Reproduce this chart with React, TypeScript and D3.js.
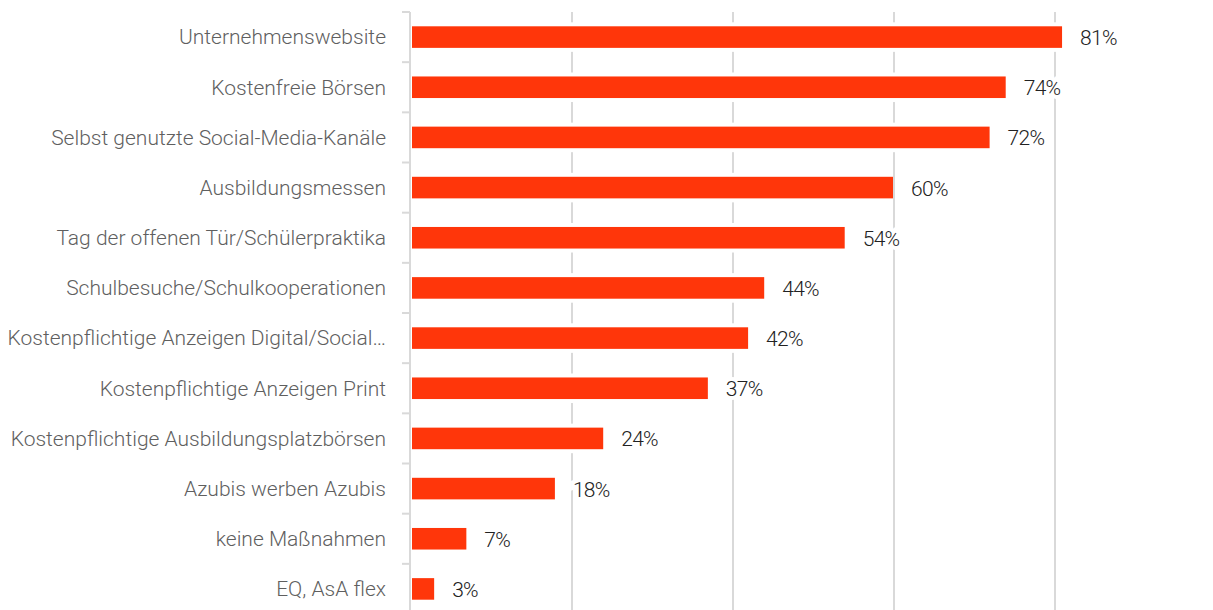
import * as d3 from "d3";
import { useEffect, useRef } from "react";

const categories = [
  "Unternehmenswebsite",
  "Kostenfreie Börsen",
  "Selbst genutzte Social-Media-Kanäle",
  "Ausbildungsmessen",
  "Tag der offenen Tür/Schülerpraktika",
  "Schulbesuche/Schulkooperationen",
  "Kostenpflichtige Anzeigen Digital/Social…",
  "Kostenpflichtige Anzeigen Print",
  "Kostenpflichtige Ausbildungsplatzbörsen",
  "Azubis werben Azubis",
  "keine Maßnahmen",
  "EQ, AsA flex",
];
const values = [81, 74, 72, 60, 54, 44, 42, 37, 24, 18, 7, 3];
const gridTicks = [20, 40, 60, 80, 100];

const W = 1213;
const H = 610;

const App = () => {
  const ref = useRef<SVGSVGElement | null>(null);

  useEffect(() => {
    if (!ref.current) return;
    const svg = d3.select(ref.current);
    svg.selectAll("*").remove();

    const x = d3.scaleLinear().domain([0, 100]).range([411, 1216]);
    const y = d3.scaleBand().domain(categories).range([12, 614]).padding(0);
    const barH = y.bandwidth() * 0.43;
    const font = "Roboto, 'Noto Sans', sans-serif";

    // gridlines
    svg
      .append("g")
      .selectAll("line")
      .data(gridTicks)
      .join("line")
      .attr("x1", (d) => x(d))
      .attr("x2", (d) => x(d))
      .attr("y1", 12)
      .attr("y2", H)
      .attr("stroke", "#d9d9d9")
      .attr("stroke-width", 2);

    // white padding round bars
    svg
      .append("g")
      .selectAll("rect")
      .data(values)
      .join("rect")
      .attr("x", x(0))
      .attr("y", (d, i) => y(categories[i])! + (y.bandwidth() - barH) / 2 - 4)
      .attr("width", (d) => x(d) - x(0) - 1)
      .attr("height", barH + 8)
      .attr("fill", "#fff");

    // bars
    svg
      .append("g")
      .selectAll("rect")
      .data(values)
      .join("rect")
      .attr("x", x(0) + 1)
      .attr("y", (d, i) => y(categories[i])! + (y.bandwidth() - barH) / 2)
      .attr("width", (d) => x(d) - x(0) - 2)
      .attr("height", barH)
      .attr("fill", "#ff360a");

    // y axis
    const axis = svg.append("g");
    axis
      .append("line")
      .attr("x1", 410)
      .attr("x2", 410)
      .attr("y1", 12)
      .attr("y2", H)
      .attr("stroke", "#d9d9d9")
      .attr("stroke-width", 2);
    axis
      .selectAll("line.tick")
      .data(d3.range(categories.length + 1))
      .join("line")
      .attr("class", "tick")
      .attr("x1", 402)
      .attr("x2", 410)
      .attr("y1", (i) => 12 + i * y.step())
      .attr("y2", (i) => 12 + i * y.step())
      .attr("stroke", "#d9d9d9")
      .attr("stroke-width", 2);

    // category labels
    svg
      .append("g")
      .selectAll("text")
      .data(categories)
      .join("text")
      .attr("x", 386)
      .attr("y", (d) => y(d)! + y.bandwidth() / 2)
      .attr("dy", "0.35em")
      .attr("text-anchor", "end")
      .style("font-family", font)
      .style("font-weight", 300)
      .style("font-size", "21px")
      .style("fill", "#5f5f5f")
      .text((d) => d);

    // value labels
    svg
      .append("g")
      .selectAll("text")
      .data(values)
      .join("text")
      .attr("x", (d) => x(d) + 17)
      .attr("y", (d, i) => y(categories[i])! + y.bandwidth() / 2)
      .attr("dy", "0.38em")
      .style("font-family", font)
      .style("font-weight", 300)
      .style("font-size", "21px")
      .style("letter-spacing", "-0.7px")
      .style("fill", "#222")
      .style("stroke", "#fff")
      .style("stroke-width", 8)
      .style("paint-order", "stroke")
      .text((d) => `${d}%`);
  }, []);

  return (
    <svg
      ref={ref}
      width={W}
      height={H}
      style={{ position: "absolute", left: 0, top: 0, background: "#fff" }}
    />
  );
};

export default App;
